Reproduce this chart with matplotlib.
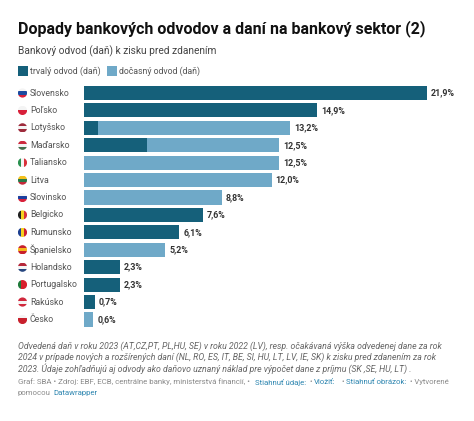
import matplotlib
matplotlib.use("Agg")
import matplotlib.pyplot as plt
from matplotlib.patches import Circle, Rectangle

plt.rcParams['font.family'] = ['Roboto', 'DejaVu Sans']

# data
countries = ["Slovensko", "Poľsko", "Lotyšsko", "Maďarsko", "Taliansko", "Litva", "Slovinsko",
             "Belgicko", "Rumunsko", "Španielsko", "Holandsko", "Portugalsko", "Rakúsko", "Česko"]
trvaly = [21.9, 14.9, 0.9, 4.0, 0, 0, 0, 7.6, 6.1, 0, 2.3, 2.3, 0.7, 0]
docasny = [0, 0, 12.3, 8.5, 12.5, 12.0, 8.8, 0, 0, 5.2, 0, 0, 0, 0.6]
labels = ["21,9%", "14,9%", "13,2%", "12,5%", "12,5%", "12,0%", "8,8%",
          "7,6%", "6,1%", "5,2%", "2,3%", "2,3%", "0,7%", "0,6%"]

# flag stripes, h = top to bottom, v = left to right
flags = [("h", ["#f4f4f4", "#1b4aa0", "#d8203a"]), ("h", ["#f4f4f4", "#d8203a"]),
         ("h", ["#9e2b3c", "#f4f4f4", "#9e2b3c"]), ("h", ["#cd2a3e", "#f4f4f4", "#436f4d"]),
         ("v", ["#2a9150", "#f4f4f4", "#d8303a"]), ("h", ["#f3c01c", "#2a7a48", "#c5293a"]),
         ("h", ["#f4f4f4", "#1b3f9e", "#d8203a"]), ("v", ["#222222", "#f5d020", "#d8303a"]),
         ("v", ["#1d3f90", "#f5d020", "#cc2030"]), ("h", ["#c8202c", "#f3b81c", "#c8202c"]),
         ("h", ["#b5283a", "#f4f4f4", "#27467f"]), ("v", ["#1f7a3a", "#d8202c", "#d8202c"]),
         ("h", ["#d0283c", "#f4f4f4", "#d0283c"]), ("h", ["#f4f4f4", "#c8202c", "#c8202c"])]

W, H = 474, 421
dark = "#15607a"
light = "#6fa9c8"

fig = plt.figure(figsize=(W / 100, H / 100), dpi=100, facecolor="white")


def txt(x, y, s, **kw):
    kw.setdefault("va", "center")
    kw.setdefault("color", "#333333")
    return fig.text(x / W, 1 - y / H, s, **kw)


# bars
pitch = 17.42
top = 93 - pitch / 2
ax = fig.add_axes([84 / W, 1 - (top + pitch * 14) / H, 342.5 / W, pitch * 14 / H])
ypos = list(range(len(countries)))
ax.barh(ypos, trvaly, height=0.81, color=dark)
ax.barh(ypos, docasny, left=trvaly, height=0.81, color=light)
ax.set_xlim(0, 21.9)
ax.set_ylim(13.5, -0.5)
ax.axis("off")

for i, c in enumerate(countries):
    ax.annotate(labels[i], (trvaly[i] + docasny[i], i), xytext=(4, 0), textcoords="offset pixels",
                va="center", fontsize=6.4, fontweight="bold", color="#333333", annotation_clip=False)
    ax.annotate(c, (0, i), xytext=(-54, 0), textcoords="offset pixels", va="center",
                fontsize=6.35, color="#555555", annotation_clip=False)

# flags
fax = fig.add_axes([0, 0, 1, 1])
fax.set_xlim(0, W)
fax.set_ylim(H, 0)
fax.axis("off")
fax.patch.set_alpha(0)
r = 4.6
for i, (kind, cols) in enumerate(flags):
    cx, cy = 22.5, 93 + i * pitch
    clip = Circle((cx, cy), r, transform=fax.transData)
    n = len(cols)
    for j, col in enumerate(cols):
        if kind == "h":
            p = Rectangle((cx - r, cy - r + j * 2 * r / n), 2 * r, 2 * r / n, color=col, lw=0)
        else:
            p = Rectangle((cx - r + j * 2 * r / n, cy - r), 2 * r / n, 2 * r, color=col, lw=0)
        fax.add_patch(p)
        p.set_clip_path(clip)

# header
txt(17.5, 29, "Dopady bankových odvodov a daní na bankový sektor (2)", fontsize=11.5, fontweight="bold", color="#111111")
txt(17.5, 51.5, "Bankový odvod (daň) k zisku pred zdanením", fontsize=7.3, color="#444444")

# legend
fax.add_patch(Rectangle((18, 66), 10, 10, color=dark, lw=0))
txt(30, 71, "trvalý odvod (daň)", fontsize=6.4, color="#555555")
fax.add_patch(Rectangle((107.5, 66), 10, 10, color=light, lw=0))
txt(119.5, 71, "dočasný odvod (daň)", fontsize=6.35, color="#555555")

# notes
notes = ["Odvedená daň v roku 2023 (AT,CZ,PT, PL,HU, SE) v roku 2022 (LV), resp. očakávaná výška odvedenej dane za rok",
         "2024 v prípade nových a rozšírených daní (NL, RO, ES, IT, BE, SI, HU, LT, LV, IE, SK) k zisku pred zdanením za rok",
         "2023. Údaje zohľadňujú aj odvody ako daňovo uznaný náklad pre výpočet dane z príjmu (SK ,SE, HU, LT) ."]
for i, n in enumerate(notes):
    txt(17.5, 346.5 + i * 11, n, fontsize=6.27, style="italic", color="#666666")

# source line
grey = "#8a8a8a"
blue = "#2e86b0"
txt(17.5, 382, "Graf: SBA • Zdroj: EBF, ECB, centrálne banky, ministerstvá financií, •", fontsize=5.65, color=grey)
txt(254.5, 382, "Stiahnuť údaje:", fontsize=5.6, color=blue)
txt(309, 382, "•", fontsize=5.6, color=grey)
txt(314, 382, "Vložiť:", fontsize=5.6, color=blue)
txt(341, 382, "•", fontsize=5.6, color=grey)
txt(346, 382, "Stiahnuť obrázok:", fontsize=5.6, color=blue)
txt(410, 382, "• Vytvorené", fontsize=5.6, color=grey)
txt(17.5, 392.5, "pomocou", fontsize=5.6, color=grey)
txt(53, 392.5, "Datawrapper", fontsize=5.6, color=blue)

fig.savefig("out.png", dpi=100)
